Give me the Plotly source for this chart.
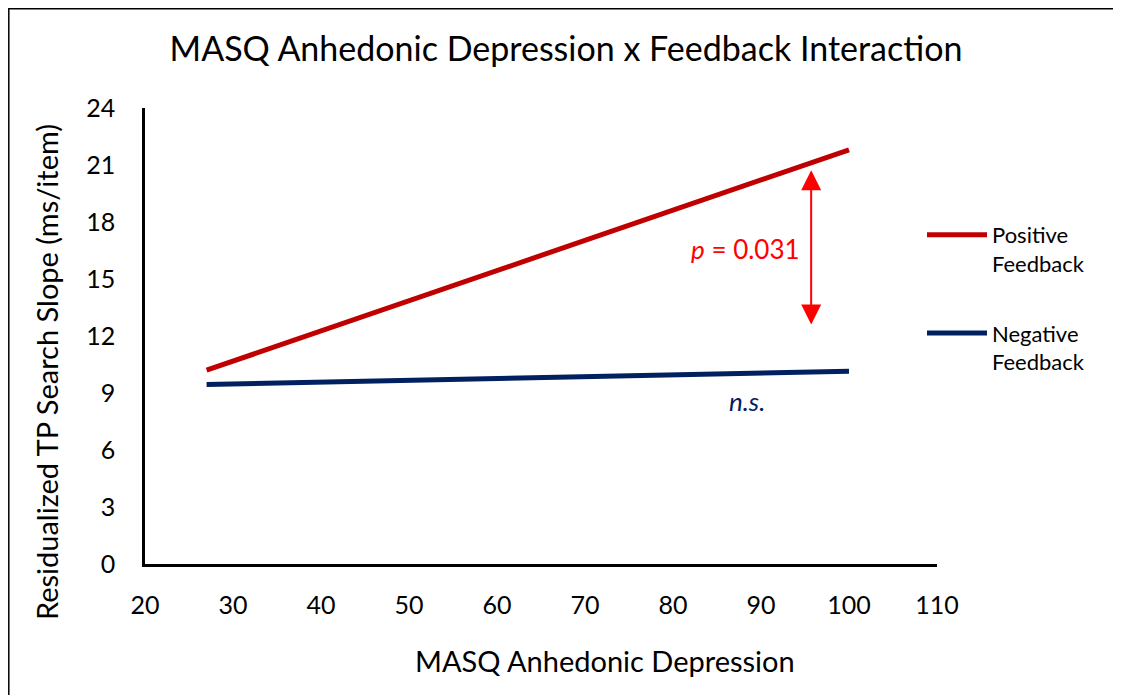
import plotly.graph_objects as go

# data
masq = [27, 100]
positive_fb = [10.2, 21.8]
negative_fb = [9.45, 10.15]
series_names = ["Positive<br>Feedback", "Negative<br>Feedback"]
series_colors = ["#C00000", "#002060"]
x_ticks = [20, 30, 40, 50, 60, 70, 80, 90, 100, 110]
y_ticks = [0, 3, 6, 9, 12, 15, 18, 21, 24]

# significance arrow and labels
arrow_x = 95.7
arrow_top = 20.8
arrow_bottom = 12.6
p_label = ("<i>p</i> = 0.031", 88.2, 16.6)
ns_label = ("<i>n.s.</i>", 88.4, 8.6)

FONT = "Lato, 'Open Sans', sans-serif"
# page body has an 8px margin, so the figure is shrunk to fit the window
OFF = 8
W, H = 1121 - OFF, 695 - OFF
L, T = 145 - OFF, 108 - OFF
pw, ph = 792, 456
R, B = W - L - pw, H - T - ph


def px(x):  # page x pixel -> paper x
    return (x - 145) / pw


def py(y):  # page y pixel -> paper y
    return (564 - y) / ph


fig = go.Figure()
for i, (ys, name, col) in enumerate(zip([positive_fb, negative_fb], series_names, series_colors)):
    fig.add_trace(go.Scatter(
        x=masq, y=ys, mode="lines", name=name, legendgroup=f"g{i}",
        line=dict(color=col, width=5),
    ))

# double-headed arrow
fig.add_annotation(
    x=arrow_x, y=arrow_bottom, ax=arrow_x, ay=arrow_top,
    xref="x", yref="y", axref="x", ayref="y",
    text="", showarrow=True, arrowside="end+start",
    arrowhead=2, arrowsize=2.0, arrowwidth=2, arrowcolor="#FF0000",
)
fig.add_annotation(x=p_label[1], y=p_label[2], text=p_label[0], showarrow=False,
                   font=dict(family=FONT, size=26, color="#FF0000"))
fig.add_annotation(x=ns_label[1], y=ns_label[2], text=ns_label[0], showarrow=False,
                   font=dict(family=FONT, size=26, color="#002060"))

# axis titles placed as in the reference
fig.add_annotation(x=px(605), y=py(660), xref="paper", yref="paper",
                   xanchor="center", yanchor="middle",
                   text="MASQ Anhedonic Depression", showarrow=False,
                   font=dict(family=FONT, size=29))
fig.add_annotation(x=px(46), y=py(372), xref="paper", yref="paper",
                   xanchor="center", yanchor="middle",
                   text="Residualized TP Search Slope (ms/item)", showarrow=False,
                   textangle=-90, font=dict(family=FONT, size=29))

# outer frame of the image
fig.add_shape(type="rect", xref="paper", yref="paper",
              x0=px(OFF + 0.8), x1=px(1117),
              y0=py(760), y1=py(OFF + 0.8),
              line=dict(color="black", width=1.5), layer="above")

fig.update_layout(
    width=W, height=H,
    margin=dict(l=L, r=R, t=T, b=B),
    paper_bgcolor="white", plot_bgcolor="white",
    font=dict(family=FONT, color="black"),
    title=dict(text="MASQ Anhedonic Depression x Feedback Interaction",
               x=px(566), xanchor="center",
               xref="paper", y=1 - (49 - OFF) / H, yanchor="middle",
               font=dict(size=34)),
    showlegend=True,
    legend=dict(x=px(922), y=py(214), xanchor="left", yanchor="top",
                font=dict(size=22), tracegroupgap=38, itemwidth=60,
                valign="top", bgcolor="rgba(0,0,0,0)"),
)
fig.update_xaxes(range=[20, 110], tickvals=x_ticks, showgrid=False, zeroline=False,
                 showline=True, linecolor="black", linewidth=2.5,
                 ticks="", ticklabelstandoff=17, tickfont=dict(size=25))
fig.update_yaxes(range=[0, 24], tickvals=y_ticks, showgrid=False, zeroline=False,
                 showline=True, linecolor="black", linewidth=2.5,
                 ticks="", ticklabelstandoff=22, tickfont=dict(size=25))

fig.write_html("out.html")
